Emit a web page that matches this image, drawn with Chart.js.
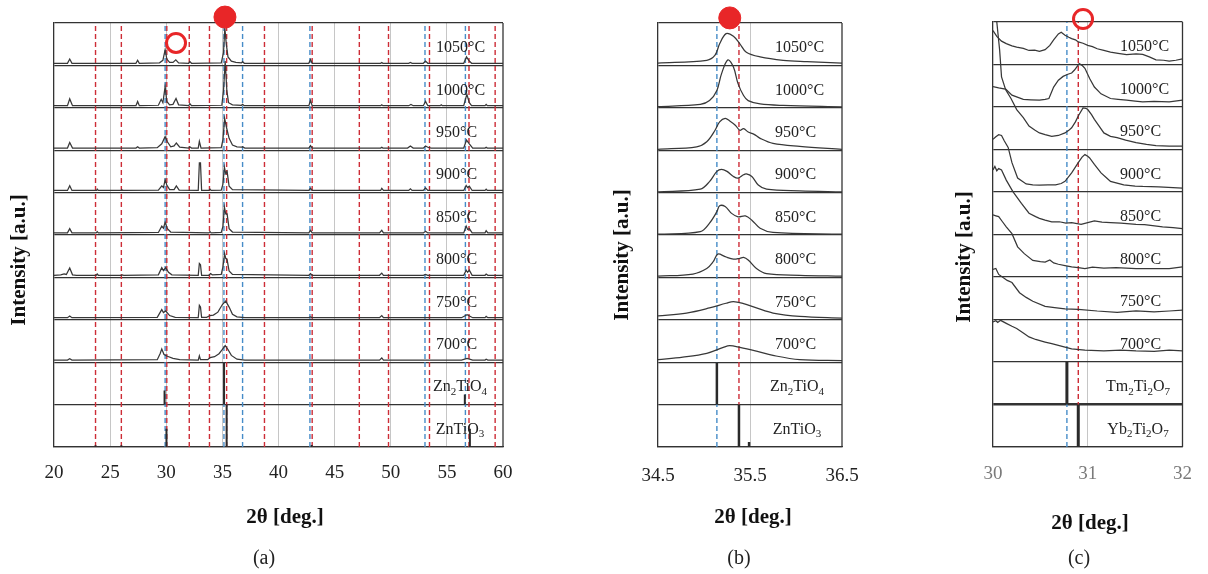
<!DOCTYPE html>
<html><head><meta charset="utf-8">
<script src="https://cdn.jsdelivr.net/npm/chart.js@4.4.0/dist/chart.umd.min.js"></script>
<style>
body{margin:0;background:#fff;width:1208px;height:574px;overflow:hidden;position:relative}
canvas{position:absolute;top:0}
</style></head><body>
<canvas id="ca" width="530" height="574" style="left:0"></canvas>
<canvas id="cb" width="320" height="574" style="left:560px"></canvas>
<canvas id="cc" width="308" height="574" style="left:900px"></canvas>
<script>
// ---------- tick labels ----------
const A_TICKS = [20, 25, 30, 35, 40, 45, 50, 55, 60];
const B_TICKS = [34.5, 35.5, 36.5];
const C_TICKS = [30, 31, 32];

// ---------- row labels (top to bottom) ----------
const A_ROWS = ['1050°C','1000°C','950°C','900°C','850°C','800°C','750°C','700°C','Zn_2TiO_4','ZnTiO_3'];
const B_ROWS = ['1050°C','1000°C','950°C','900°C','850°C','800°C','750°C','700°C','Zn_2TiO_4','ZnTiO_3'];
const C_ROWS = ['1050°C','1000°C','950°C','900°C','850°C','800°C','750°C','700°C','Tm_2Ti_2O_7','Yb_2Ti_2O_7'];

// ---------- panel (a) scans: [2θ, intensity within its row] ----------
const A_1050 = [[20,0.05],[21.2,0.05],[21.4,0.15],[21.6,0.05],[27.3,0.05],[27.45,0.12],[27.6,0.05],[29.4,0.06],[29.7,0.12],[29.9,0.37],[30.05,0.15],[30.3,0.07],[30.6,0.07],[30.85,0.13],[31.1,0.06],[32.0,0.05],[32.1,0.09],[32.25,0.05],[34.9,0.06],[35.1,0.3],[35.22,0.88],[35.35,0.5],[35.5,0.2],[35.8,0.1],[36.2,0.07],[36.7,0.06],[36.8,0.09],[36.95,0.05],[42.7,0.05],[42.85,0.14],[43.0,0.05],[49.1,0.05],[49.2,0.07],[49.3,0.05],[51.6,0.05],[51.75,0.07],[51.9,0.05],[52.9,0.05],[53.1,0.1],[53.3,0.05],[56.5,0.05],[56.75,0.2],[56.95,0.12],[57.2,0.05],[60,0.05]];
const A_1000 = [[20,0.05],[21.2,0.05],[21.4,0.21],[21.65,0.05],[27.3,0.05],[27.45,0.15],[27.6,0.05],[29.3,0.06],[29.55,0.2],[29.7,0.12],[29.9,0.5],[30.05,0.15],[30.3,0.07],[30.6,0.08],[30.87,0.22],[31.1,0.07],[32.0,0.05],[32.1,0.1],[32.25,0.05],[34.95,0.06],[35.1,0.4],[35.25,1.1],[35.4,0.4],[35.55,0.12],[35.9,0.07],[36.7,0.06],[36.8,0.08],[36.95,0.05],[42.7,0.05],[42.85,0.17],[43.0,0.05],[49.1,0.05],[49.2,0.07],[49.3,0.05],[51.6,0.05],[51.8,0.08],[52.0,0.05],[52.9,0.05],[53.1,0.15],[53.3,0.05],[54.4,0.05],[54.5,0.07],[54.6,0.05],[56.5,0.05],[56.78,0.32],[57.0,0.12],[57.2,0.05],[58.4,0.05],[58.5,0.08],[58.6,0.05],[60,0.05]];
const A_950 = [[20,0.05],[21.2,0.05],[21.4,0.18],[21.65,0.05],[27.3,0.05],[27.45,0.08],[27.6,0.05],[29.2,0.06],[29.6,0.15],[29.9,0.32],[30.1,0.2],[30.4,0.08],[30.7,0.1],[30.9,0.17],[31.2,0.07],[32.0,0.05],[32.1,0.08],[32.25,0.05],[32.85,0.05],[32.95,0.21],[33.1,0.05],[34.9,0.06],[35.05,0.25],[35.2,0.75],[35.4,0.5],[35.6,0.28],[35.9,0.12],[36.3,0.08],[36.7,0.07],[36.8,0.08],[37.0,0.05],[42.7,0.05],[42.85,0.11],[43.0,0.05],[49.1,0.05],[49.2,0.07],[49.3,0.05],[51.5,0.05],[51.75,0.1],[52.0,0.05],[52.9,0.05],[53.1,0.1],[53.3,0.07],[53.6,0.05],[56.5,0.05],[56.75,0.24],[57.0,0.15],[57.3,0.05],[58.4,0.05],[58.5,0.07],[58.6,0.05],[60,0.05]];
const A_900 = [[20,0.05],[21.2,0.05],[21.4,0.16],[21.6,0.05],[23.8,0.05],[23.85,0.08],[23.95,0.05],[26.0,0.05],[26.05,0.07],[26.15,0.05],[29.3,0.06],[29.6,0.16],[29.75,0.12],[29.9,0.3],[30.05,0.18],[30.3,0.07],[30.7,0.07],[30.9,0.16],[31.15,0.06],[32.85,0.05],[32.95,0.7],[33.05,0.7],[33.15,0.05],[33.8,0.05],[33.9,0.08],[34.0,0.05],[34.9,0.06],[35.05,0.2],[35.18,0.6],[35.3,0.45],[35.42,0.5],[35.6,0.15],[35.9,0.07],[42.7,0.05],[42.85,0.1],[43.0,0.05],[49.1,0.05],[49.2,0.1],[49.35,0.05],[51.6,0.05],[51.75,0.09],[51.9,0.05],[52.9,0.05],[53.1,0.11],[53.3,0.05],[56.5,0.05],[56.72,0.17],[56.85,0.12],[57.0,0.15],[57.25,0.05],[58.4,0.05],[58.5,0.08],[58.6,0.05],[60,0.05]];
const A_850 = [[20,0.05],[21.2,0.05],[21.4,0.15],[21.6,0.05],[23.75,0.05],[23.85,0.08],[23.95,0.05],[29.3,0.06],[29.6,0.21],[29.75,0.16],[29.9,0.3],[30.1,0.15],[30.4,0.07],[33.8,0.05],[33.9,0.08],[34.0,0.05],[34.9,0.06],[35.05,0.2],[35.18,0.66],[35.3,0.5],[35.42,0.5],[35.6,0.15],[35.9,0.07],[42.7,0.05],[42.85,0.11],[43.0,0.05],[49.0,0.05],[49.2,0.11],[49.35,0.05],[52.9,0.05],[53.1,0.09],[53.3,0.05],[56.5,0.05],[56.72,0.21],[56.85,0.13],[57.0,0.15],[57.25,0.05],[58.4,0.05],[58.5,0.1],[58.65,0.05],[60,0.05]];
const A_800 = [[20,0.05],[20.6,0.06],[20.9,0.08],[21.1,0.07],[21.4,0.22],[21.65,0.06],[22,0.05],[23.75,0.05],[23.85,0.08],[23.95,0.05],[26.0,0.05],[26.1,0.06],[26.2,0.05],[29.3,0.06],[29.6,0.23],[29.75,0.16],[29.95,0.23],[30.2,0.12],[30.5,0.06],[32.85,0.05],[32.95,0.33],[33.05,0.3],[33.15,0.05],[33.8,0.05],[33.95,0.09],[34.1,0.06],[34.9,0.07],[35.05,0.25],[35.2,0.56],[35.3,0.45],[35.42,0.42],[35.6,0.15],[35.9,0.07],[42.7,0.05],[42.85,0.09],[43.0,0.05],[49.0,0.05],[49.2,0.1],[49.35,0.05],[52.9,0.05],[53.1,0.07],[53.3,0.05],[56.5,0.05],[56.72,0.17],[56.85,0.12],[57.0,0.17],[57.25,0.05],[58.4,0.05],[58.5,0.08],[58.65,0.05],[60,0.05]];
const A_750 = [[20,0.05],[21.2,0.05],[21.4,0.09],[21.6,0.05],[29.2,0.06],[29.6,0.24],[29.75,0.17],[29.95,0.21],[30.3,0.1],[30.8,0.06],[32.85,0.05],[32.95,0.34],[33.05,0.3],[33.15,0.06],[33.6,0.06],[33.9,0.1],[34.2,0.11],[34.6,0.18],[35.0,0.36],[35.3,0.44],[35.6,0.3],[35.9,0.13],[36.3,0.07],[37,0.05],[42.7,0.05],[42.85,0.07],[43.0,0.05],[49.0,0.05],[49.2,0.1],[49.35,0.05],[56.3,0.05],[56.8,0.12],[57.3,0.05],[58.4,0.05],[58.5,0.08],[58.65,0.05],[60,0.05]];
const A_700 = [[20,0.05],[21.2,0.05],[21.4,0.08],[21.6,0.05],[29.2,0.06],[29.45,0.2],[29.6,0.31],[29.8,0.18],[30.1,0.14],[30.6,0.09],[31.2,0.06],[32.85,0.05],[32.95,0.15],[33.05,0.06],[33.7,0.06],[33.9,0.11],[34.3,0.13],[34.7,0.2],[35.0,0.3],[35.25,0.39],[35.5,0.3],[35.8,0.16],[36.3,0.07],[37,0.05],[49.0,0.05],[49.2,0.1],[49.35,0.05],[56.3,0.05],[56.8,0.09],[57.3,0.05],[58.4,0.05],[58.5,0.07],[58.65,0.05],[60,0.05]];
// reference patterns (stick heights within row)
const A_ZN2TIO4_STICKS = [[29.85,0.33],[35.15,1.0],[56.6,0.24]];
const A_ZNTIO3_STICKS = [[23.7,0.04],[26.0,0.04],[30.02,0.43],[35.38,1.0],[42.96,0.05],[57.05,0.43]];
// dashed guide positions
const A_ZNTIO3_LINES = [23.7,26.0,30.05,32.05,33.85,35.38,38.75,43.0,47.2,49.8,53.45,56.97,59.3];
const A_ZN2TIO4_LINES = [29.9,35.14,36.8,42.8,53.05,56.65];
const A_FILLED_MARK = [35.23];
const A_OPEN_MARK = [30.87];

// ---------- panel (b) ----------
const B_1050 = [[34.5,0.055],[35.03,0.12],[35.12,0.24],[35.17,0.51],[35.24,0.75],[35.32,0.69],[35.39,0.51],[35.46,0.31],[35.61,0.2],[35.86,0.12],[36.12,0.09],[36.5,0.055]];
const B_1000 = [[34.5,0.03],[34.96,0.08],[35.06,0.17],[35.14,0.41],[35.19,0.8],[35.26,1.13],[35.32,0.96],[35.37,0.57],[35.43,0.29],[35.48,0.17],[35.61,0.09],[35.86,0.055],[36.5,0.02]];
const B_950 = [[34.5,0.02],[34.92,0.08],[35.03,0.2],[35.12,0.47],[35.17,0.67],[35.23,0.75],[35.28,0.69],[35.34,0.59],[35.39,0.47],[35.43,0.51],[35.48,0.43],[35.54,0.38],[35.61,0.28],[35.75,0.16],[36.04,0.09],[36.5,0.02]];
const B_900 = [[34.5,0.02],[34.96,0.08],[35.06,0.26],[35.14,0.5],[35.19,0.55],[35.25,0.5],[35.32,0.38],[35.37,0.34],[35.43,0.42],[35.46,0.44],[35.52,0.38],[35.59,0.18],[35.68,0.08],[36.04,0.04],[36.5,0.02]];
const B_850 = [[34.5,0.02],[34.96,0.08],[35.06,0.28],[35.14,0.55],[35.17,0.69],[35.23,0.67],[35.3,0.51],[35.37,0.43],[35.45,0.45],[35.52,0.35],[35.61,0.16],[35.75,0.06],[36.5,0.02]];
const B_800 = [[34.5,0.03],[34.88,0.08],[35.03,0.21],[35.1,0.37],[35.15,0.55],[35.23,0.49],[35.32,0.43],[35.39,0.45],[35.43,0.47],[35.48,0.41],[35.57,0.21],[35.68,0.09],[36.04,0.05],[36.5,0.03]];
const B_750 = [[34.5,0.09],[34.81,0.16],[35.06,0.28],[35.24,0.39],[35.32,0.43],[35.43,0.38],[35.57,0.28],[35.75,0.16],[36.04,0.08],[36.5,0.04]];
const B_700 = [[34.5,0.06],[34.77,0.12],[35.03,0.21],[35.21,0.35],[35.28,0.39],[35.39,0.35],[35.57,0.26],[35.75,0.16],[36.04,0.06],[36.5,0.04]];
const B_ZN2TIO4_STICKS = [[35.14,1.0]];
const B_ZNTIO3_STICKS = [[35.38,1.0],[35.49,0.12]];
const B_ZNTIO3_LINES = [35.38];
const B_ZN2TIO4_LINES = [35.14];
const B_FILLED_MARK = [35.28];

// ---------- panel (c) ----------
const C_1050 = [[30,0.8],[30.04,0.66],[30.09,0.55],[30.14,0.49],[30.2,0.44],[30.25,0.41],[30.32,0.38],[30.38,0.33],[30.44,0.34],[30.49,0.31],[30.55,0.35],[30.6,0.45],[30.64,0.58],[30.69,0.72],[30.72,0.76],[30.76,0.69],[30.8,0.64],[30.83,0.61],[30.87,0.58],[30.9,0.53],[30.95,0.5],[31.0,0.45],[31.05,0.42],[31.1,0.37],[31.17,0.33],[31.24,0.29],[31.32,0.26],[31.41,0.23],[31.51,0.25],[31.58,0.24],[31.65,0.18],[31.72,0.11],[31.8,0.1],[31.86,0.08],[31.93,0.1],[32,0.13]];
const C_1000 = [[30.04,2.0],[30.07,1.34],[30.09,0.71],[30.13,0.43],[30.2,0.28],[30.32,0.18],[30.4,0.17],[30.49,0.16],[30.55,0.18],[30.59,0.2],[30.64,0.47],[30.69,0.63],[30.74,0.72],[30.79,0.77],[30.83,0.8],[30.86,0.87],[30.91,1.02],[30.94,0.98],[30.97,0.91],[31.02,0.67],[31.07,0.47],[31.14,0.31],[31.24,0.2],[31.32,0.18],[31.41,0.16],[31.5,0.14],[31.58,0.12],[31.7,0.13],[31.86,0.12],[32,0.16]];
const C_950 = [[30,1.48],[30.06,1.45],[30.13,1.42],[30.19,1.2],[30.25,0.94],[30.32,0.75],[30.38,0.55],[30.44,0.46],[30.49,0.39],[30.55,0.35],[30.62,0.31],[30.69,0.33],[30.76,0.39],[30.8,0.45],[30.83,0.51],[30.87,0.65],[30.9,0.79],[30.95,0.98],[30.98,0.97],[31.0,0.94],[31.04,0.82],[31.07,0.71],[31.12,0.55],[31.17,0.39],[31.24,0.31],[31.31,0.28],[31.4,0.22],[31.51,0.16],[31.62,0.12],[31.72,0.09],[31.86,0.08],[32,0.08]];
const C_900 = [[30,1.24],[30.03,1.3],[30.06,1.35],[30.09,1.33],[30.12,1.2],[30.16,1.05],[30.2,0.69],[30.26,0.33],[30.35,0.19],[30.42,0.17],[30.49,0.16],[30.58,0.17],[30.66,0.17],[30.72,0.2],[30.76,0.25],[30.83,0.45],[30.9,0.69],[30.94,0.82],[30.97,0.88],[31.0,0.84],[31.02,0.8],[31.07,0.65],[31.14,0.45],[31.2,0.33],[31.24,0.25],[31.38,0.17],[31.5,0.14],[31.58,0.13],[31.75,0.12],[32,0.09]];
const C_850 = [[30,1.52],[30.02,1.6],[30.04,1.5],[30.06,1.55],[30.09,1.52],[30.14,1.28],[30.21,1.01],[30.3,0.73],[30.38,0.5],[30.45,0.42],[30.49,0.38],[30.55,0.34],[30.62,0.3],[30.7,0.3],[30.77,0.27],[30.83,0.28],[30.93,0.24],[31.0,0.28],[31.07,0.32],[31.15,0.29],[31.24,0.28],[31.35,0.27],[31.51,0.24],[31.6,0.23],[31.79,0.18],[31.9,0.16],[32,0.14]];
const C_800 = [[30,1.46],[30.03,1.44],[30.06,1.42],[30.1,1.3],[30.14,1.18],[30.2,1.02],[30.26,0.71],[30.33,0.55],[30.42,0.39],[30.5,0.36],[30.55,0.35],[30.6,0.4],[30.64,0.33],[30.69,0.3],[30.76,0.27],[30.83,0.24],[30.9,0.22],[30.97,0.2],[31.05,0.23],[31.17,0.21],[31.3,0.22],[31.51,0.2],[31.7,0.2],[31.86,0.2],[32,0.24]];
const C_750 = [[30,1.18],[30.03,1.2],[30.06,1.06],[30.11,0.98],[30.15,0.92],[30.2,0.87],[30.28,0.63],[30.35,0.52],[30.42,0.43],[30.55,0.31],[30.65,0.28],[30.76,0.25],[30.9,0.24],[31.1,0.2],[31.31,0.17],[31.51,0.2],[31.7,0.18],[31.86,0.2],[32,0.22]];
const C_700 = [[30,0.94],[30.03,0.97],[30.05,0.93],[30.08,0.98],[30.14,0.91],[30.2,0.84],[30.25,0.79],[30.32,0.68],[30.38,0.59],[30.45,0.53],[30.55,0.47],[30.62,0.43],[30.69,0.39],[30.76,0.35],[30.83,0.31],[30.97,0.28],[31.17,0.26],[31.35,0.28],[31.51,0.26],[31.7,0.25],[31.86,0.28],[32,0.26]];
const C_TM_STICKS = [[30.78,1.0]];
const C_YB_STICKS = [[30.9,1.0]];
const C_YB_LINES = [30.9];
const C_TM_LINES = [30.78];
const C_OPEN_MARK = [30.95];

// ---------- styles ----------
const RED = 'rgb(205,45,55)', BLUE = 'rgb(70,140,200)', MARK = 'rgb(232,38,40)';
const SERIF = '"Liberation Serif","Times New Roman",serif';

function richText(ctx, s, x, y, size, align, color) {
  const parts = [];
  s.split(/(_\d)/).forEach(p => { if (!p) return; parts.push(p[0] === '_' ? {t: p.slice(1), sub: true} : {t: p, sub: false}); });
  const f = sub => (sub ? Math.round(size * 0.68) : size) + 'px ' + SERIF;
  let w = 0;
  parts.forEach(p => { ctx.font = f(p.sub); p.w = ctx.measureText(p.t).width; w += p.w; });
  let cx = align === 'center' ? x - w / 2 : x;
  ctx.fillStyle = color; ctx.textBaseline = 'middle'; ctx.textAlign = 'left';
  parts.forEach(p => { ctx.font = f(p.sub); ctx.fillText(p.t, cx, y + (p.sub ? size * 0.3 : 0)); cx += p.w; });
}

const decor = {
  id: 'decor',
  afterDatasetsDraw(chart, args, o) {
    const {ctx, chartArea: a, scales: {y}} = chart;
    ctx.save();
    ctx.strokeStyle = '#333'; ctx.lineWidth = 1.3;
    ctx.beginPath(); ctx.moveTo(a.right, a.top); ctx.lineTo(a.right, a.bottom); ctx.stroke();
    const n = o.rows.length;
    o.rows.forEach((lab, i) => {
      const row = n - 1 - i;
      const py = y.getPixelForValue(row + 0.41);
      const isComp = i >= n - 2;
      richText(ctx, lab, isComp ? o.compX : o.labelX, py, 16, isComp ? 'center' : 'left', '#222');
    });
    ctx.fillStyle = '#111';
    ctx.font = 'bold 21px ' + SERIF;
    ctx.textAlign = 'center'; ctx.textBaseline = 'middle';
    ctx.save(); ctx.translate(o.yTitleX, o.yTitleY); ctx.rotate(-Math.PI / 2);
    ctx.fillText('Intensity [a.u.]', 0, 0); ctx.restore();
    ctx.fillText('2θ [deg.]', o.xTitleX, o.xTitleY);
    ctx.font = '20px ' + SERIF; ctx.fillStyle = '#222';
    ctx.fillText(o.caption, o.capX, o.capY);
    ctx.restore();
  }
};

function scanDatasets(scans, n) {
  return scans.map((pts, i) => ({
    data: pts.map(p => ({x: p[0], y: p[1] + (n - 1 - i)})),
    showLine: true, borderColor: '#383838', borderWidth: 1.25, pointRadius: 0, order: 1
  }));
}
function stickDataset(sticks, row, width) {
  const d = [];
  sticks.forEach(s => { d.push({x: s[0], y: row}, {x: s[0], y: row + s[1]}, {x: s[0], y: null}); });
  return {data: d, showLine: true, spanGaps: false, borderColor: '#2a2a2a', borderWidth: width, pointRadius: 0, order: 1};
}
function guideDataset(xs, color, n) {
  const d = [];
  xs.forEach(x => { d.push({x, y: 0}, {x, y: n}, {x, y: null}); });
  return {data: d, showLine: true, spanGaps: false, borderColor: color, borderWidth: 1.4, borderDash: [5, 3], pointRadius: 0, order: 2};
}
function markDataset(xs, yv, filled) {
  return {data: xs.map(x => ({x, y: yv})), showLine: false, clip: false, order: 0,
    pointRadius: filled ? 11 : 9.5, pointBorderWidth: filled ? 1 : 3,
    pointBackgroundColor: filled ? MARK : 'rgba(0,0,0,0)', pointBorderColor: MARK};
}

function makePanel(id, p) {
  const n = p.rows.length;
  new Chart(document.getElementById(id), {
    type: 'scatter',
    data: {datasets: p.datasets},
    options: {
      responsive: false, animation: false, devicePixelRatio: 1, events: [],
      layout: {padding: {top: p.top, right: p.padR, bottom: p.padB, left: 0}},
      plugins: {legend: {display: false}, tooltip: {enabled: false},
        decor: {rows: p.rows, labelX: p.labelX, compX: p.compX, yTitleX: p.yTitleX, yTitleY: p.yTitleY,
          xTitleX: p.xTitleX, xTitleY: p.xTitleY, caption: p.caption, capX: p.capX, capY: p.capY}},
      scales: {
        x: {type: 'linear', min: p.ticks[0], max: p.ticks[p.ticks.length - 1],
          afterBuildTicks: s => { s.ticks = p.ticks.map(v => ({value: v})); },
          afterFit: s => { s.height = p.xH; },
          ticks: {autoSkip: false, maxRotation: 0, padding: p.tickPad, color: p.tickColor,
            font: {family: SERIF, size: 19}, callback: v => p.fmt(v)},
          grid: {drawTicks: false, lineWidth: 1,
            color: c => (c.tick && (c.tick.value === p.ticks[0] || c.tick.value === p.ticks[p.ticks.length - 1])) ? 'rgba(0,0,0,0)' : '#c6c6c6'},
          border: {display: true, color: '#333', width: 1.3}
        },
        y: {type: 'linear', min: 0, max: n,
          afterBuildTicks: s => { s.ticks = p.rows.map((r, i) => ({value: i})).concat([{value: n}]); },
          afterFit: s => { s.width = p.yW; },
          ticks: {display: false},
          grid: {drawTicks: false, color: '#333', lineWidth: c => (p.thickRow !== undefined && c.tick && c.tick.value === p.thickRow) ? 2.6 : 1.3},
          border: {display: true, color: '#333', width: 1.3}
        }
      }
    },
    plugins: [decor]
  });
}

// ---------- build panels ----------
const A_SCANS = [A_1050, A_1000, A_950, A_900, A_850, A_800, A_750, A_700];
makePanel('ca', {
  rows: A_ROWS, ticks: A_TICKS, fmt: v => String(v), tickColor: '#222',
  top: 23, padR: 27, padB: 44, xH: 83, yW: 54, tickPad: 15,
  labelX: 436, compX: 460, yTitleX: 20, yTitleY: 260, xTitleX: 285, xTitleY: 518,
  caption: '(a)', capX: 264, capY: 559,
  datasets: [markDataset(A_FILLED_MARK, 10.14, true), markDataset(A_OPEN_MARK, 9.53, false)]
    .concat(scanDatasets(A_SCANS, A_ROWS.length))
    .concat([stickDataset(A_ZN2TIO4_STICKS, 1, 2), stickDataset(A_ZNTIO3_STICKS, 0, 2),
      guideDataset(A_ZN2TIO4_LINES, BLUE, A_ROWS.length), guideDataset(A_ZNTIO3_LINES, RED, A_ROWS.length)])
});
const B_SCANS = [B_1050, B_1000, B_950, B_900, B_850, B_800, B_750, B_700];
makePanel('cb', {
  rows: B_ROWS, ticks: B_TICKS, fmt: v => v.toFixed(1), tickColor: '#222',
  top: 23, padR: 38, padB: 44, xH: 83, yW: 98, tickPad: 18,
  labelX: 215, compX: 237, yTitleX: 63, yTitleY: 255, xTitleX: 193, xTitleY: 518,
  caption: '(b)', capX: 179, capY: 559,
  datasets: [markDataset(B_FILLED_MARK, 10.12, true)]
    .concat(scanDatasets(B_SCANS, B_ROWS.length).map(d => Object.assign(d, {tension: 0.35})))
    .concat([stickDataset(B_ZN2TIO4_STICKS, 1, 2.5), stickDataset(B_ZNTIO3_STICKS, 0, 2.5),
      guideDataset(B_ZN2TIO4_LINES, BLUE, B_ROWS.length), guideDataset(B_ZNTIO3_LINES, RED, B_ROWS.length)])
});
const C_SCANS = [C_1050, C_1000, C_950, C_900, C_850, C_800, C_750, C_700];
makePanel('cc', {
  rows: C_ROWS, ticks: C_TICKS, fmt: v => String(v), tickColor: '#7a7a7a',
  top: 22, padR: 21, padB: 39, xH: 88, yW: 93, tickPad: 16, thickRow: 1,
  labelX: 220, compX: 238, yTitleX: 65, yTitleY: 257, xTitleX: 190, xTitleY: 524,
  caption: '(c)', capX: 179, capY: 559,
  datasets: [markDataset(C_OPEN_MARK, 10.07, false)]
    .concat(scanDatasets(C_SCANS, C_ROWS.length))
    .concat([stickDataset(C_TM_STICKS, 1, 3), stickDataset(C_YB_STICKS, 0, 3),
      guideDataset(C_TM_LINES, BLUE, C_ROWS.length), guideDataset(C_YB_LINES, RED, C_ROWS.length)])
});
</script>
</body></html>
